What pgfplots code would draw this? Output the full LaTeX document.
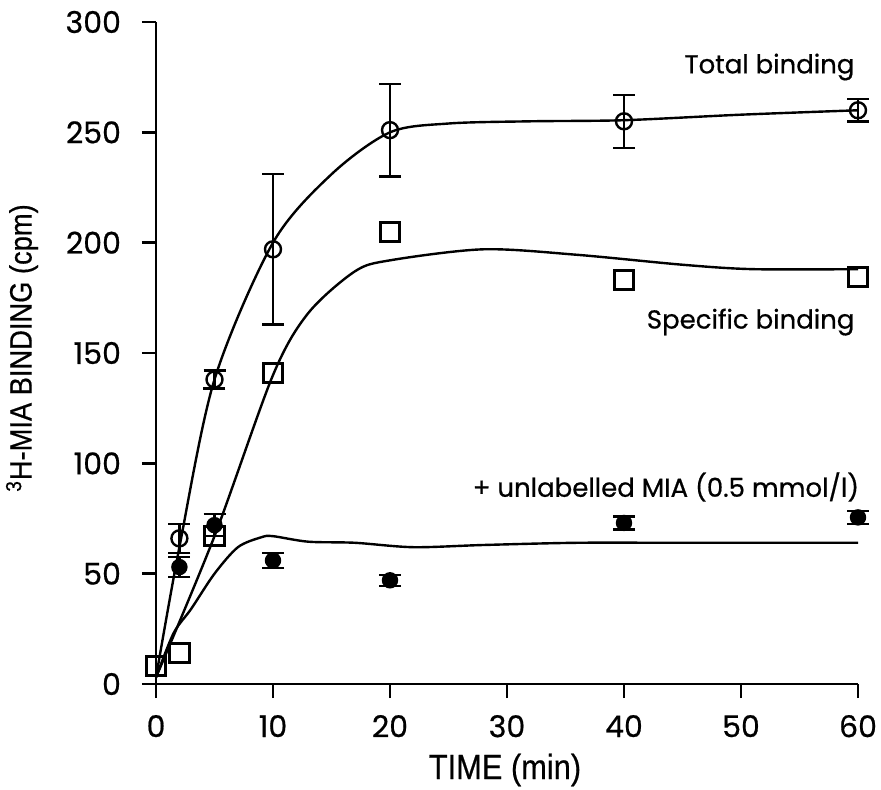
\documentclass[border=0pt]{standalone}
\usepackage{fontspec}
\setmainfont{Poppins}[FakeBold=0.6]
\newfontfamily\narrowfont[FakeStretch=0.88,FakeBold=0.5]{Liberation Sans}
\usepackage{pgfplots}
\pgfplotsset{compat=1.18}

% time (min), binding (cpm), error
\pgfplotstableread{
t   y    e
2   66   6.5
5   138  4
10  197  34
20  251  21
40  255  12
60  260  5
}\total
\pgfplotstableread{
t   y
0   8
2   14
5   67
10  141
20  205
40  183
60  184.5
}\specific
\pgfplotstableread{
t   y    e
2   53   4.5
5   72   5
10  56   3.5
20  47   2.5
40  73   3
60  75.5 3
}\nonspec

\begin{document}
\begin{tikzpicture}
\begin{axis}[
  scale only axis, width=351pt, height=331pt,
  xmin=0, xmax=60, ymin=0, ymax=300,
  axis lines=left, axis line style={-, line width=1.3pt},
  xtick={0,10,...,60}, ytick={0,50,...,300},
  tick align=outside, major tick length=7pt,
  tick style={line width=1.3pt, black},
  ticklabel style={font=\fontsize{15}{15}\selectfont},
  yticklabel style={xshift=-7pt},
  xticklabel style={yshift=-5pt},
  /pgf/number format/assume math mode=true,
  clip=false,
  every axis plot/.append style={line width=1.2pt, black},
]
% fitted curves
\addplot[smooth, no marks] coordinates {
  (0,3) (2,62) (5,138) (10,200) (15,231) (20,250) (25,254) (32,255) (40,255.5) (50,258) (60,260)};
\addplot[smooth, no marks] coordinates {
  (0,3) (5,67) (10,140) (13,168) (17,187) (20,192) (28,197) (36,194.5) (45,190) (51,188) (60,188)};
\addplot[smooth, no marks] coordinates {
  (0,3) (1.5,23) (3,34) (5,50) (7,62) (9,66.5) (10,67) (13,64.5) (17,64) (22,62) (28,63) (36,64) (45,64) (60,64)};

% data
\addplot[only marks, mark=*, mark size=3.5pt, mark options={fill=black},
  error bars/.cd, y dir=both, y explicit,
  error bar style={line width=1.2pt},
  error mark options={rotate=90, mark size=5.5pt, line width=1.2pt}]
  table[x=t, y=y, y error=e] {\nonspec};
\addplot[only marks, mark=o, mark size=4pt, mark options={fill=white},
  error bars/.cd, y dir=both, y explicit,
  error bar style={line width=1.2pt},
  error mark options={rotate=90, mark size=5.5pt, line width=1.2pt}]
  table[x=t, y=y, y error=e] {\total};
\addplot[only marks, mark=square, mark size=4.8pt, mark options={line width=1.5pt}]
  table[x=t, y=y] {\specific};

\node[anchor=east, font=\fontsize{13}{13}\selectfont] at (axis cs:60.3,279.6) {Total binding};
\node[anchor=east, font=\fontsize{13}{13}\selectfont] at (axis cs:60.3,164) {Specific binding};
\node[anchor=east, font=\fontsize{13}{13}\selectfont] at (axis cs:60.7,89.3) {+ unlabelled MIA (0.5 mmol/l)};
\end{axis}
\node at (174.5pt,-43pt) {\narrowfont\fontsize{17.5}{17.5}\selectfont TIME (min)};
\node[rotate=90] at (-67pt,168pt) {\narrowfont\fontsize{15.5}{15.5}\selectfont \textsuperscript{3}H-MIA BINDING (cpm)};
\pgfresetboundingbox
\path[use as bounding box] (-78pt,-52.5pt) rectangle (362.5pt,342pt);
\end{tikzpicture}
\end{document}
